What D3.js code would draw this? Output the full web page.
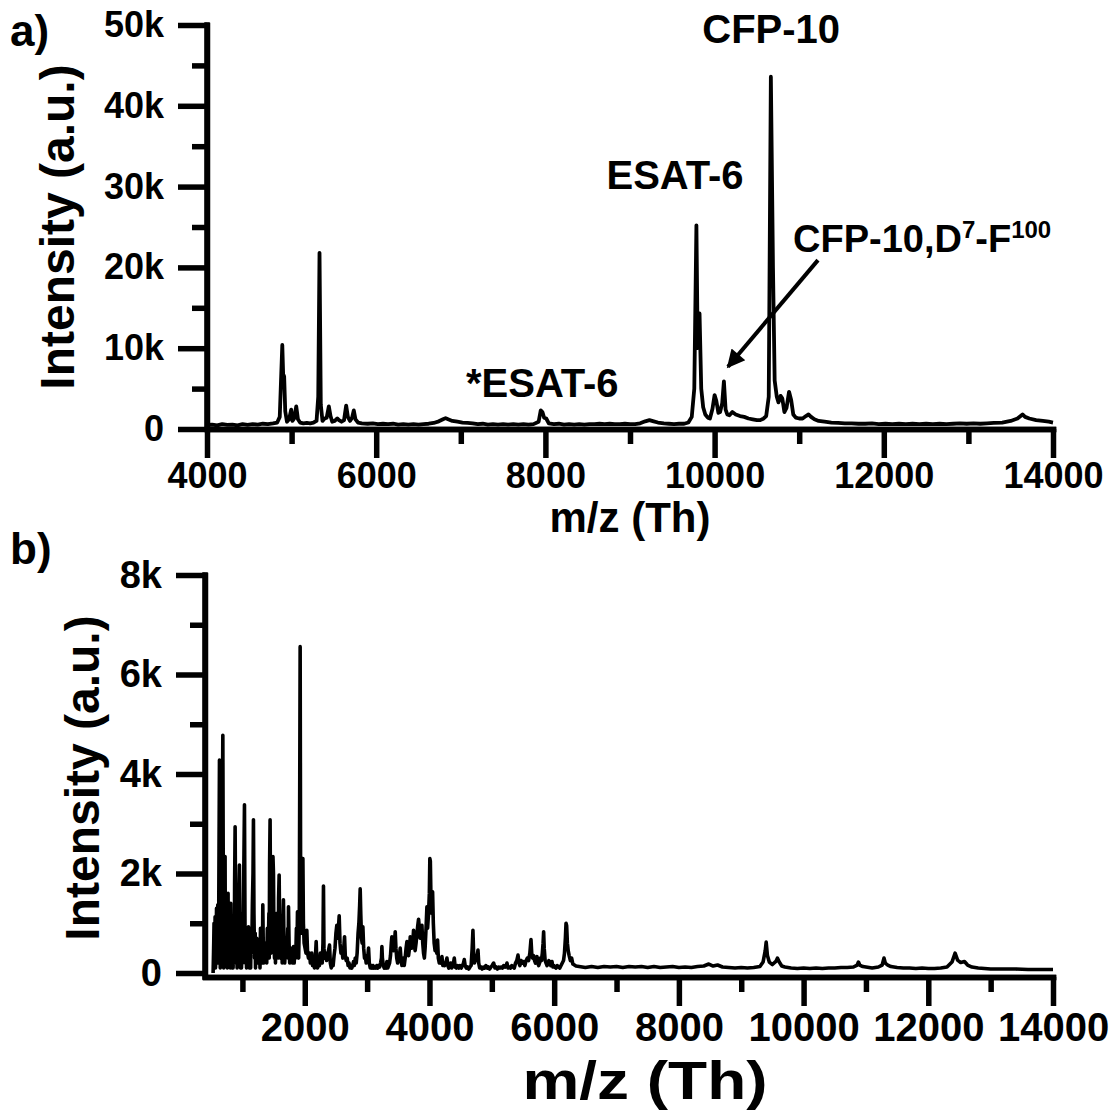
<!DOCTYPE html>
<html>
<head>
<meta charset="utf-8">
<script src="https://cdn.jsdelivr.net/npm/d3@7"></script>
<style>
  body { margin: 0; background: #fff; }
  svg text { font-family: "Liberation Sans", Arial, sans-serif; font-weight: bold; fill: #000; }
</style>
</head>
<body>
<div id="chart"></div>
<script>
// panel a spectrum: [m/z, intensity in k]
const specA = [
  [4000,0.5],[4060,0.55],[4120,0.45],[4180,0.6],[4240,0.5],[4300,0.55],[4360,0.45],[4420,0.6],
  [4480,0.5],[4540,0.6],[4600,0.55],[4660,0.65],[4720,0.6],[4780,0.7],[4830,0.8],[4860,1.5],
  [4875,6],[4890,10.4],[4900,6.8],[4912,6.5],[4925,2.2],[4945,0.9],[4970,1.2],[4995,2.4],
  [5010,1.0],[5030,1.3],[5055,2.8],[5075,1.2],[5100,0.8],[5140,0.7],[5180,0.75],[5220,0.7],
  [5260,0.8],[5295,1.0],[5315,4],[5330,21.8],[5345,3],[5365,1.0],[5390,1.3],[5415,1.4],
  [5440,2.8],[5460,1.6],[5480,0.9],[5510,1.0],[5540,1.3],[5560,1.1],[5590,0.9],[5620,1.1],
  [5645,2.9],[5665,1.5],[5690,1.0],[5715,1.4],[5735,2.3],[5755,1.2],[5785,0.8],[5830,0.7],
  [5900,0.65],[5960,0.7],[6020,0.6],[6080,0.65],[6140,0.6],[6200,0.65],[6260,0.55],[6320,0.6],
  [6380,0.55],[6440,0.6],[6500,0.55],[6560,0.6],[6620,0.65],[6680,0.75],[6740,0.95],[6790,1.2],
  [6820,1.35],[6850,1.2],[6900,1.0],[6960,0.9],[7020,0.8],[7080,0.75],[7140,0.7],[7200,0.6],
  [7260,0.65],[7320,0.55],[7380,0.6],[7440,0.55],[7500,0.6],[7560,0.55],[7620,0.6],[7680,0.55],
  [7740,0.6],[7800,0.55],[7860,0.6],[7920,0.9],[7945,2.3],[7965,2.1],[7985,1.4],[8010,1.3],
  [8040,0.7],[8100,0.6],[8160,0.65],[8220,0.55],[8280,0.6],[8340,0.55],[8400,0.6],[8460,0.55],
  [8520,0.6],[8580,0.6],[8640,0.65],[8700,0.6],[8760,0.65],[8820,0.6],[8880,0.6],[8940,0.65],
  [9000,0.6],[9060,0.6],[9120,0.7],[9180,0.95],[9230,1.1],[9280,0.95],[9330,0.8],[9400,0.7],
  [9460,0.65],[9520,0.6],[9580,0.65],[9640,0.65],[9690,0.8],[9730,1.5],[9760,5],[9785,25.2],
  [9800,10],[9822,14.3],[9842,5],[9865,2.7],[9890,1.8],[9920,1.4],[9945,1.3],[9975,2.5],
  [10000,4.2],[10020,3.5],[10045,2.0],[10065,2.1],[10090,3.2],[10110,5.9],[10130,2.4],[10150,1.8],
  [10175,1.7],[10210,2.1],[10250,1.8],[10300,1.6],[10350,1.5],[10400,1.3],[10450,1.2],[10500,1.1],
  [10540,1.1],[10580,1.3],[10610,1.6],[10640,4],[10665,43.6],[10690,20],[10710,6],[10735,4.0],
  [10755,3.3],[10780,4.1],[10800,3.8],[10825,2.1],[10850,2.6],[10880,4.6],[10905,3.6],[10930,1.8],
  [10960,1.4],[11000,1.3],[11040,1.3],[11080,1.6],[11110,1.8],[11140,1.5],[11180,1.2],[11230,1.0],
  [11300,0.9],[11380,0.8],[11460,0.75],[11540,0.7],[11620,0.7],[11700,0.65],[11780,0.65],[11860,0.7],
  [11940,0.6],[12020,0.65],[12100,0.6],[12180,0.65],[12260,0.6],[12340,0.65],[12420,0.6],[12500,0.65],
  [12580,0.6],[12660,0.65],[12740,0.6],[12820,0.65],[12900,0.7],[12980,0.65],[13060,0.7],[13140,0.65],
  [13220,0.7],[13300,0.75],[13400,0.8],[13500,1.0],[13580,1.3],[13640,1.8],[13670,1.5],[13720,1.3],
  [13800,1.1],[13880,1.0],[13950,0.9],[14000,0.8]
];

// panel b spectrum: [m/z, intensity in k]
const specB = [
  [530,0],[540,0.6],[545,1.0],[550,0.1],[555,0.2],[562,1.13],[568,0.1],[575,0.3],[585,1.3],[590,0.2],
  [595,0.5],[605,1.37],[610,0.3],[615,0.2],[620,1.2],[625,2.5],[632,4.28],[640,1.0],[645,0.1],[650,0.3],
  [660,1.5],[665,0.2],[670,0.6],[678,3.0],[686,4.78],[695,1.2],[700,0.1],[705,0.4],[714,1.6],[718,0.3],
  [722,2.34],[727,0.2],[732,0.6],[742,0.2],[752,1.1],[757,0.1],[762,0.5],[770,1.6],[775,0.2],[780,1.1],
  [790,0.3],[800,0.9],[806,0.1],[813,1.4],[822,0.4],[833,0.1],[845,0.8],[850,0.1],[855,0.3],[865,1.0],
  [870,0.2],[875,1.8],[883,2.94],[892,1.0],[900,0.2],[910,0.8],[915,0.1],[920,0.4],[932,1.1],[937,0.2],
  [943,1.6],[952,2.17],[960,0.5],[970,0.1],[980,0.9],[985,0.1],[990,0.3],[1000,1.2],[1005,0.2],[1010,0.6],
  [1020,1.8],[1033,3.38],[1042,0.8],[1050,0.2],[1060,0.7],[1066,0.1],[1072,0.4],[1085,0.9],[1090,0.2],
  [1097,0.93],[1105,0.3],[1115,0.1],[1125,0.6],[1132,0.1],[1140,0.9],[1150,0.4],[1160,1.4],[1170,2.0],
  [1177,3.08],[1185,1.2],[1195,0.3],[1205,0.8],[1210,0.1],[1215,0.5],[1230,0.7],[1240,0.2],[1250,0.5],
  [1262,0.3],[1275,0.5],[1282,0.1],[1290,0.9],[1300,0.3],[1315,0.7],[1320,0.2],[1327,1.37],[1335,0.5],
  [1345,0.2],[1355,0.6],[1368,0.3],[1380,0.6],[1390,0.2],[1400,0.9],[1412,0.4],[1425,1.2],[1430,0.3],
  [1436,2.2],[1444,3.08],[1452,1.0],[1460,0.4],[1470,1.4],[1475,0.5],[1480,1.7],[1490,2.34],[1498,2.0],
  [1506,0.6],[1515,0.3],[1525,0.8],[1530,0.2],[1538,0.6],[1551,1.2],[1560,0.4],[1570,0.9],[1575,0.3],
  [1580,1.5],[1589,1.97],[1598,0.8],[1608,0.3],[1618,0.6],[1630,0.9],[1638,0.2],[1645,0.7],[1658,1.47],
  [1667,0.6],[1678,0.2],[1690,0.5],[1703,0.7],[1715,0.4],[1728,0.9],[1733,0.3],[1739,1.33],[1748,0.6],
  [1758,0.2],[1770,0.4],[1782,0.3],[1795,0.5],[1806,0.2],[1819,0.53],[1830,0.2],[1842,0.5],[1855,0.3],
  [1866,0.9],[1875,0.4],[1883,1.23],[1893,0.5],[1902,0.3],[1912,1.0],[1920,4.0],[1926,6.56],[1934,1.5],
  [1945,0.8],[1955,1.4],[1963,2.3],[1970,2.3],[1978,1.0],[1990,0.6],[2005,0.5],[2020,0.4],[2033,0.86],
  [2045,0.4],[2060,0.3],[2075,0.4],[2090,0.2],[2103,0.3],[2113,0.4],[2125,0.15],[2140,0.2],[2155,0.1],
  [2170,0.3],[2183,0.63],[2193,0.25],[2205,0.1],[2220,0.2],[2235,0.15],[2250,0.4],[2265,0.3],[2280,0.2],
  [2292,0.6],[2300,1.75],[2308,0.5],[2320,0.3],[2335,0.4],[2350,0.25],[2365,0.3],[2380,0.45],[2397,0.56],
  [2410,0.2],[2425,0.1],[2440,0.2],[2455,0.15],[2470,0.35],[2485,0.5],[2500,0.8],[2514,0.96],[2525,0.7],
  [2540,0.9],[2552,1.15],[2565,0.6],[2580,0.4],[2595,0.5],[2610,0.3],[2625,0.5],[2638,0.73],[2650,0.35],
  [2665,0.25],[2680,0.3],[2695,0.15],[2710,0.2],[2725,0.1],[2740,0.15],[2755,0.1],[2768,0.15],
  [2782,0.23],[2795,0.15],[2810,0.3],[2825,0.2],[2840,0.4],[2855,0.8],[2868,1.0],[2880,1.35],
  [2889,1.69],[2898,1.2],[2910,0.7],[2920,0.6],[2932,0.93],[2945,0.5],[2958,0.3],[2970,0.35],
  [2985,0.2],[3000,0.25],[3012,0.35],[3023,0.5],[3035,0.2],[3050,0.1],[3065,0.15],[3080,0.1],
  [3095,0.15],[3110,0.1],[3125,0.12],[3140,0.1],[3155,0.15],[3170,0.1],[3185,0.15],[3200,0.12],
  [3215,0.2],[3230,0.3],[3237,0.53],[3245,0.3],[3260,0.15],[3275,0.1],[3290,0.15],[3305,0.1],
  [3317,0.23],[3330,0.1],[3345,0.15],[3360,0.2],[3375,0.35],[3388,0.6],[3397,0.73],[3410,0.5],
  [3425,0.45],[3438,0.6],[3451,0.83],[3462,0.5],[3475,0.3],[3490,0.2],[3505,0.3],[3518,0.35],
  [3531,0.5],[3545,0.25],[3558,0.15],[3570,0.25],[3583,0.3],[3595,0.15],[3610,0.3],[3625,0.5],
  [3638,0.63],[3650,0.4],[3665,0.35],[3680,0.5],[3692,0.73],[3705,0.5],[3718,0.5],[3732,0.6],
  [3745,0.86],[3758,0.6],[3770,0.45],[3785,0.6],[3800,0.8],[3812,0.95],[3825,1.08],[3838,0.9],
  [3850,0.7],[3865,0.85],[3879,0.96],[3892,0.6],[3905,0.4],[3918,0.3],[3930,0.5],[3945,0.9],
  [3959,1.33],[3970,0.9],[3985,1.2],[3998,1.6],[4006,2.3],[4014,2.25],[4025,1.4],[4037,1.2],
  [4050,1.63],[4062,1.0],[4075,0.6],[4090,0.45],[4105,0.5],[4118,0.4],[4130,0.66],[4142,0.3],
  [4158,0.2],[4170,0.25],[4185,0.2],[4200,0.33],[4215,0.15],[4230,0.2],[4245,0.15],[4262,0.2],
  [4280,0.3],[4295,0.15],[4310,0.1],[4325,0.15],[4340,0.2],[4355,0.1],[4370,0.15],[4385,0.2],
  [4398,0.3],[4412,0.12],[4430,0.1],[4450,0.15],[4470,0.1],[4490,0.15],[4510,0.1],[4530,0.15],
  [4545,0.2],[4558,0.27],[4572,0.15],[4590,0.1],[4610,0.12],[4630,0.08],[4650,0.12],[4668,0.15],
  [4685,0.5],[4697,0.86],[4708,0.4],[4720,0.2],[4735,0.25],[4752,0.3],[4765,0.35],[4778,0.46],
  [4790,0.2],[4805,0.1],[4825,0.12],[4845,0.08],[4865,0.12],[4885,0.1],[4905,0.15],[4925,0.1],
  [4945,0.12],[4965,0.08],[4985,0.12],[5005,0.15],[5029,0.2],[5050,0.1],[5070,0.12],[5090,0.08],
  [5110,0.12],[5130,0.1],[5150,0.12],[5170,0.1],[5190,0.15],[5210,0.12],[5230,0.15],[5243,0.2],
  [5260,0.1],[5280,0.12],[5300,0.1],[5320,0.15],[5340,0.12],[5360,0.1],[5380,0.2],[5400,0.25],
  [5420,0.36],[5435,0.2],[5450,0.15],[5470,0.25],[5490,0.2],[5510,0.23],[5530,0.15],[5550,0.25],
  [5570,0.3],[5590,0.25],[5610,0.4],[5628,0.67],[5640,0.4],[5655,0.3],[5670,0.35],[5685,0.25],
  [5700,0.2],[5712,0.3],[5724,0.33],[5738,0.2],[5752,0.15],[5765,0.2],[5780,0.3],[5795,0.25],
  [5810,0.4],[5822,0.6],[5831,0.83],[5840,0.5],[5855,0.25],[5870,0.2],[5885,0.15],[5900,0.2],
  [5915,0.25],[5930,0.2],[5945,0.15],[5965,0.23],[5980,0.12],[5995,0.15],[6010,0.12],[6030,0.1],
  [6050,0.15],[6070,0.12],[6090,0.1],[6110,0.15],[6130,0.2],[6150,0.25],[6165,0.4],[6180,0.7],
  [6190,1.0],[6200,0.95],[6212,0.6],[6225,0.45],[6240,0.35],[6260,0.25],[6280,0.3],[6300,0.18],
  [6350,0.14],[6400,0.13],[6500,0.11],[6600,0.13],[6700,0.11],[6800,0.13],[6900,0.12],[7000,0.13],
  [7100,0.11],[7200,0.13],[7300,0.12],[7400,0.13],[7500,0.11],[7600,0.13],[7700,0.11],[7800,0.12],
  [7900,0.13],[8000,0.11],[8100,0.12],[8200,0.11],[8300,0.13],[8400,0.14],[8480,0.18],[8550,0.14],
  [8620,0.16],[8700,0.12],[8800,0.11],[8900,0.1],[9000,0.11],[9100,0.1],[9200,0.11],[9300,0.13],
  [9350,0.22],[9385,0.45],[9400,0.62],[9420,0.35],[9450,0.22],[9500,0.17],[9560,0.24],[9580,0.3],
  [9610,0.22],[9650,0.14],[9700,0.12],[9800,0.1],[9900,0.09],[10000,0.1],[10100,0.09],[10200,0.1],
  [10300,0.09],[10400,0.1],[10500,0.1],[10600,0.11],[10700,0.11],[10800,0.12],[10860,0.16],[10880,0.22],
  [10900,0.16],[10950,0.13],[11000,0.12],[11100,0.1],[11200,0.12],[11260,0.16],[11290,0.3],[11310,0.2],
  [11350,0.16],[11400,0.13],[11500,0.11],[11600,0.1],[11700,0.1],[11800,0.09],[11900,0.1],[12000,0.09],
  [12100,0.09],[12200,0.1],[12300,0.12],[12380,0.22],[12430,0.4],[12470,0.26],[12520,0.21],[12580,0.23],
  [12630,0.16],[12700,0.12],[12800,0.1],[12900,0.09],[13000,0.08],[13200,0.08],[13400,0.08],[13600,0.07],
  [13800,0.07],[14000,0.07]
];

// ticks
const aXTicks = [4000, 6000, 8000, 10000, 12000, 14000];
const aXMinor = [5000, 7000, 9000, 11000, 13000];
const aYTicks = [0, 10000, 20000, 30000, 40000, 50000];
const aYMinor = [5000, 15000, 25000, 35000, 45000];
const bXTicks = [2000, 4000, 6000, 8000, 10000, 12000, 14000];
const bXMinor = [1000, 3000, 5000, 7000, 9000, 11000, 13000];
const bYTicks = [0, 2000, 4000, 6000, 8000];
const bYMinor = [1000, 3000, 5000, 7000];

// annotations in panel a: [text, m/z, intensity k, anchor]
const annotations = [
  ["CFP-10", 10669, 47.8, "middle"],
  ["ESAT-6", 9532, 29.7, "middle"],
  ["*ESAT-6", 7061, 4.0, "start"]
];
// arrow for the CFP-10 fragment: [m/z, k] tail and head
const arrowFrom = [11222, 20.9];
const arrowTo = [10158, 7.7];

const width = 1120, height = 1113;
const svg = d3.select("#chart").append("svg")
  .attr("width", width).attr("height", height);

svg.append("defs").append("marker")
  .attr("id", "head")
  .attr("viewBox", "0 0 10 10")
  .attr("refX", 9).attr("refY", 5)
  .attr("markerWidth", 5).attr("markerHeight", 4.5)
  .attr("markerUnits", "strokeWidth")
  .attr("orient", "auto")
  .append("path")
  .attr("d", "M0,0L10,5L0,10z")
  .attr("fill", "#000");

const fmtK = d => d === 0 ? "0" : (d / 1000) + "k";

// scales
const xA = d3.scaleLinear().domain([4000, 14000]).range([207, 1053]);
const yA = d3.scaleLinear().domain([0, 50000]).range([429, 25]);
const xB = d3.scaleLinear().domain([400, 14000]).range([205, 1053]);
const yB = d3.scaleLinear().domain([0, 8000]).range([973, 575]);

function styleAxis(g, fs) {
  g.select(".domain").attr("stroke-width", 5.5).attr("stroke-linecap", "square");
  g.selectAll(".tick line").attr("stroke-width", 5.5);
  g.selectAll(".tick text").style("font-size", fs + "px");
}

function drawPanel(x, y, data, opt) {
  const line = d3.line().x(d => x(d[0])).y(d => y(d[1] * 1000));

  svg.append("path")
    .datum(data)
    .attr("d", line)
    .attr("fill", "none")
    .attr("stroke", "#000")
    .attr("stroke-width", opt.lw)
    .attr("stroke-linejoin", "round");

  // minor ticks
  svg.append("g")
    .attr("transform", `translate(${x.range()[0]},0)`)
    .call(d3.axisLeft(y).tickValues(opt.yMinor).tickSize(15).tickFormat("").tickSizeOuter(0))
    .call(g => styleAxis(g, opt.yfs));
  svg.append("g")
    .attr("transform", `translate(0,${opt.xAxisY})`)
    .call(d3.axisBottom(x).tickValues(opt.xMinor).tickSize(15).tickFormat("").tickSizeOuter(0))
    .call(g => styleAxis(g, opt.xfs));

  const yAxis = svg.append("g")
    .attr("transform", `translate(${x.range()[0]},0)`)
    .call(d3.axisLeft(y).tickValues(opt.yTicks).tickSize(29).tickPadding(14).tickFormat(fmtK).tickSizeOuter(0))
    .call(g => styleAxis(g, opt.yfs));
  yAxis.select(".domain").attr("d", `M0,${y.range()[1]}V${opt.xAxisY}`);

  svg.append("g")
    .attr("transform", `translate(0,${opt.xAxisY})`)
    .call(d3.axisBottom(x).tickValues(opt.xTicks).tickSize(29).tickPadding(opt.xpad).tickFormat(d3.format("d")).tickSizeOuter(0))
    .call(g => styleAxis(g, opt.xfs));
}

drawPanel(xA, yA, specA, {
  lw: 3.8, xAxisY: 429, xTicks: aXTicks, xMinor: aXMinor, yTicks: aYTicks, yMinor: aYMinor,
  xfs: 36, yfs: 36, xpad: 4
});
drawPanel(xB, yB, specB, {
  lw: 3.6, xAxisY: 977, xTicks: bXTicks, xMinor: bXMinor, yTicks: bYTicks, yMinor: bYMinor,
  xfs: 40, yfs: 38, xpad: 7
});

// axis titles
svg.append("text")
  .attr("transform", "translate(57,227) rotate(-90)")
  .attr("text-anchor", "middle").attr("dy", "0.35em")
  .style("font-size", "48px")
  .text("Intensity (a.u.)");
svg.append("text")
  .attr("transform", "translate(82,778) rotate(-90)")
  .attr("text-anchor", "middle").attr("dy", "0.35em")
  .style("font-size", "48px")
  .text("Intensity (a.u.)");
svg.append("text")
  .attr("x", 630).attr("y", 532)
  .attr("text-anchor", "middle")
  .style("font-size", "42px")
  .text("m/z (Th)");
svg.append("text")
  .attr("x", 645).attr("y", 1099)
  .attr("text-anchor", "middle")
  .attr("textLength", 245)
  .attr("lengthAdjust", "spacingAndGlyphs")
  .style("font-size", "54px")
  .text("m/z (Th)");

// panel letters
svg.append("text").attr("x", 10).attr("y", 46).style("font-size", "44px").text("a)");
svg.append("text").attr("x", 10).attr("y", 564).style("font-size", "44px").text("b)");

// peak annotations
svg.selectAll(".ann")
  .data(annotations)
  .enter()
  .append("text")
  .attr("class", "ann")
  .attr("x", d => xA(d[1]))
  .attr("y", d => yA(d[2] * 1000))
  .attr("text-anchor", d => d[3])
  .style("font-size", "40px")
  .text(d => d[0]);

const sup = svg.append("text")
  .attr("x", xA(10927)).attr("y", yA(21900))
  .style("font-size", "38px");
sup.append("tspan").text("CFP-10,D");
sup.append("tspan").attr("dy", -14).style("font-size", "24px").text("7");
sup.append("tspan").attr("dy", 14).text("-F");
sup.append("tspan").attr("dy", -14).style("font-size", "24px").text("100");

svg.append("line")
  .attr("x1", xA(arrowFrom[0])).attr("y1", yA(arrowFrom[1] * 1000))
  .attr("x2", xA(arrowTo[0])).attr("y2", yA(arrowTo[1] * 1000))
  .attr("stroke", "#000")
  .attr("stroke-width", 4)
  .attr("marker-end", "url(#head)");
</script>
</body>
</html>
